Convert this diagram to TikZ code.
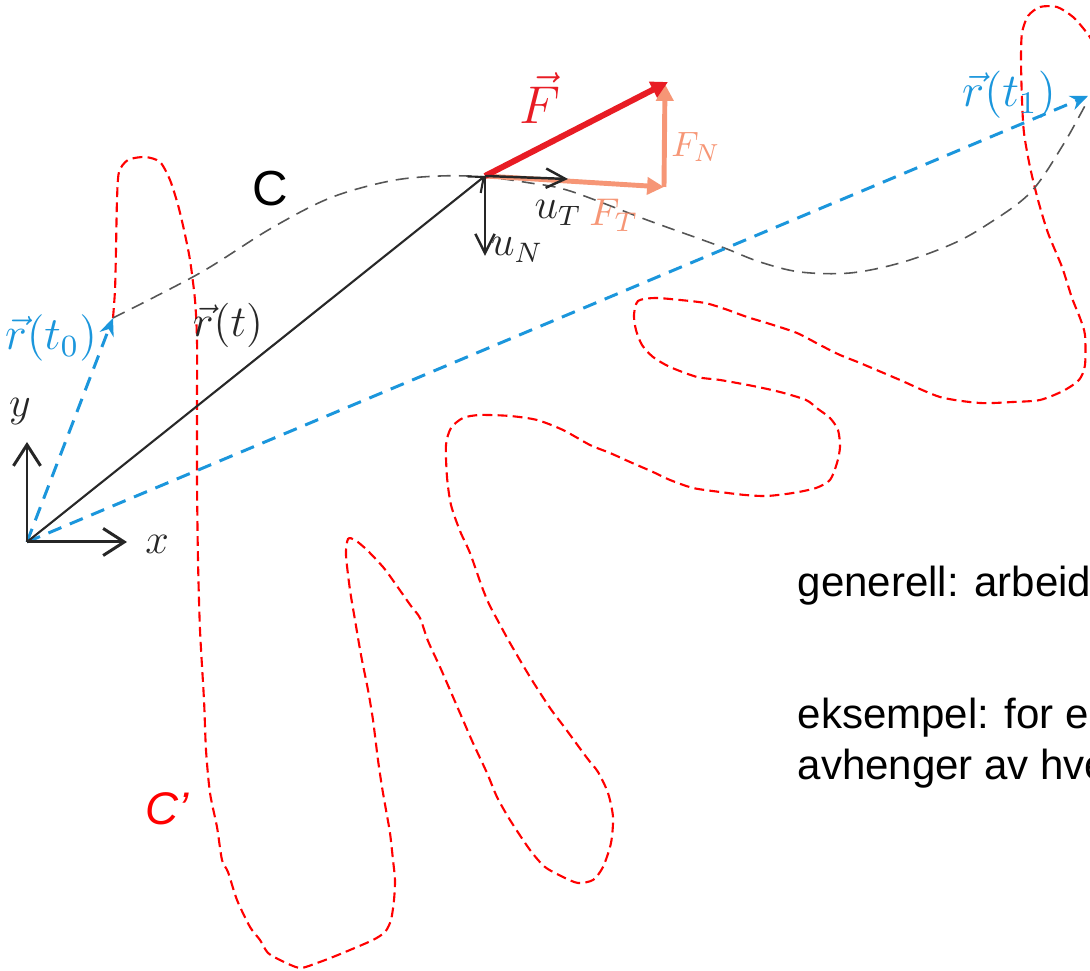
\documentclass[tikz,border=0pt]{standalone}
\usepackage{fontspec}
\newfontfamily\arialfont{Liberation Sans}
\usetikzlibrary{arrows.meta}
\definecolor{vblue}{RGB}{27,150,220}
\definecolor{fred}{RGB}{232,28,36}
\definecolor{salmon}{RGB}{246,150,118}
\definecolor{cred}{RGB}{255,0,0}
\definecolor{cgray}{RGB}{85,85,85}
\definecolor{rdark}{RGB}{40,40,40}
\begin{document}
\begin{tikzpicture}[x=0.01cm,y=-0.01cm,
  curveC/.style={draw=cgray, line width=0.45pt, dash pattern=on 3.7pt off 2.3pt},
  curveCp/.style={draw=cred, line width=0.6pt, dash pattern=on 2.8pt off 1.5pt},
  bluevec/.style={draw=vblue, line width=0.85pt, dash pattern=on 4pt off 2.6pt, -{Stealth[length=5pt,width=4.2pt]}},
  posvec/.style={draw=rdark, line width=0.6pt, -{Straight Barb[length=3.5pt,width=6pt]}},
  axisvec/.style={draw=black!85, line width=0.85pt, -{Straight Barb[length=6pt,width=7.7pt]}},
  unitvec/.style={draw=black!85, line width=0.7pt, -{Straight Barb[length=5.5pt,width=5.5pt]}},
  forceF/.style={draw=fred, line width=1.7pt, -{Triangle[length=4.8pt,width=4.8pt]}},
  forceC/.style={draw=salmon, line width=1.4pt, -{Triangle[length=4.8pt,width=4.8pt]}},
  lab/.style={inner sep=0pt, outer sep=0pt},
  bodytext/.style={inner sep=0pt, anchor=base west, font=\arialfont\fontsize{11.95}{14}\selectfont}
]
\path[use as bounding box] (0,0) rectangle (1090,971);
\clip (0,0) rectangle (1090,971);

% key points
\coordinate (O) at (27,542);
\coordinate (P) at (485,176);
\coordinate (A0) at (113,318);
\coordinate (A1) at (1088,96);
\coordinate (Xe) at (127,542);
\coordinate (Ye) at (27,442);
\coordinate (Ft) at (668,82);
\coordinate (Tc) at (664,187);
\coordinate (Nt) at (665,84);
\coordinate (uTe) at (568,179);
\coordinate (uNe) at (485,256);

% curve C'
\draw[curveCp] plot[smooth, tension=0.45] coordinates {
 (113,318) (115,290) (116,250) (117,200) (119,172) (128,160) (145,157) (160,162) (170,180)
 (178,205) (184,230) (190,260) (195,300) (197,340) (197,400) (197,480) (198,560) (200,630)
 (204,700) (206,750) (210,793) (217,827) (222,860) (228,872) (237,900) (250,927) (260,940)
 (268,953) (282,961) (300,968) (317,963) (333,957) (350,950) (373,940) (385,932) (391,920)
 (394,900) (395,880) (393,860) (390,833) (386,810) (382,787) (378,760) (373,720) (368,690)
 (361,655) (355,620) (350,590) (346,555) (348,539) (355,540) (367,550) (383,567) (392,579)
 (411,606) (420,618) (428,641) (440,667) (450,690) (463,720) (473,743) (487,773) (497,797)
 (510,820) (530,850) (545,867) (563,877) (578,883) (593,880) (603,867) (611,843) (613,817)
 (608,793) (598,772) (587,758) (565,728) (550,708) (530,677) (510,643) (498,621) (489,604)
 (482,587) (470,553) (460,531) (451,505) (447,477) (446,445) (451,428) (463,418) (480,415)
 (510,416) (537,420) (563,430) (590,445) (610,453) (630,462) (653,472) (670,480) (693,488)
 (720,492) (745,495) (767,496) (793,493) (816,488) (830,480) (837,463) (840,447) (838,430)
 (830,418) (818,409) (806,400) (780,392) (753,386) (720,380) (697,377) (670,367) (653,357)
 (642,345) (636,330) (634,315) (638,301) (655,298) (680,300) (705,303) (725,309) (747,317)
 (770,324) (797,333) (820,345) (840,355) (860,363) (900,380) (940,397) (980,403) (1013,402)
 (1040,400) (1063,391) (1079,380) (1085,365) (1085,335) (1080,318) (1072,298) (1062,267)
 (1048,233) (1038,200) (1030,167) (1024,133) (1022,100) (1021,60) (1022,33) (1028,16)
 (1040,7) (1057,7) (1073,17) (1087,33) (1096,47)};

% curve C
\draw[curveC] plot[smooth, tension=0.55] coordinates {
 (113,318) (200,273) (270,229) (330,198) (390,181) (440,176) (485,177)
 (530,183) (570,191) (647,220) (700,239) (727,249) (760,262) (800,272) (850,273) (900,263)
 (950,245) (985,226) (1030,193) (1063,145) (1088,100)};

% position vectors
\draw[bluevec] (O) -- (A0);
\draw[bluevec] (O) -- (A1);
\draw[posvec] (O) -- (P);

% axes
\draw[axisvec] (O) -- (Xe);
\draw[axisvec] (O) -- (Ye);

% forces
\draw[forceC] (P) -- (Tc);
\draw[forceC] (Tc) -- (Nt);
\draw[forceF] (P) -- (Ft);

% unit vectors
\draw[unitvec] (P) -- (uTe);
\draw[unitvec] (P) -- (uNe);

% labels
\node[lab, text=vblue, font=\large, scale=1.1] (lr0) at (51,338) {$\vec r(t_0)$};
\node[lab, text=rdark, font=\large, scale=1.05] (lrt) at (228,325) {$\vec r(t)$};
\node[lab, text=vblue, font=\large, scale=1.12] (lr1) at (1009,95) {$\vec r(t_1)$};
\node[lab, text=fred, font=\Large, scale=1.05] (lF) at (540,98) {$\vec F$};
\node[lab, text=salmon, font=\normalsize] (lFN) at (696,147) {$F_N$};
\node[lab, text=salmon, font=\normalsize, scale=1.1] (lFT) at (614,215) {$F_T$};
\node[lab, text=black!85, font=\large] (luT) at (558,213) {$u_T$};
\node[lab, text=black!85, font=\large] (luN) at (517,250) {$u_N$};
\node[lab, text=black!85, font=\large] (lx) at (157,544) {$x$};
\node[lab, text=black!85, font=\large] (ly) at (20,412) {$y$};
\node[lab, font=\arialfont\fontsize{14}{16}\selectfont] (lC) at (270,189) {C};
\node[lab, text=cred, font=\arialfont\itshape\fontsize{13}{15}\selectfont] (lCp) at (167,809) {C’};

% body text
\node[bodytext] (t1) at (797,597) {generell: arbeid};
\node[bodytext] (t2) at (797,729) {eksempel: for e};
\node[bodytext] (t3) at (797,780) {avhenger av hve};
\end{tikzpicture}
\end{document}
